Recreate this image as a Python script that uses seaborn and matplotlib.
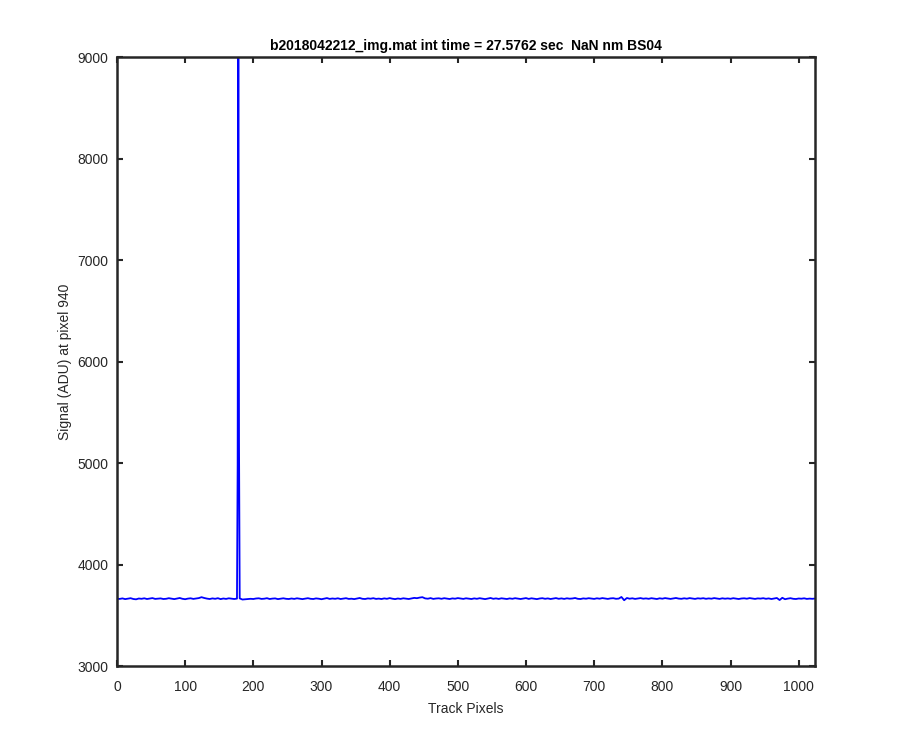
# MATLAB-style single-track signal plot, rebuilt with seaborn
import numpy as np
import pandas as pd
import matplotlib
matplotlib.use("Agg")
import matplotlib.pyplot as plt
import seaborn as sns

# === Data ===
title_text = "b2018042212_img.mat int time = 27.5762 sec  NaN nm BS04"
x_label = "Track Pixels"
y_label = "Signal (ADU) at pixel 940"

# baseline sampled every 4 track pixels (0..1020) plus the last pixel 1023
base_px = list(range(0, 1024, 4)) + [1023]
base_signal = [
    3663, 3661, 3666, 3659, 3664, 3668, 3660, 3657, 3665, 3662, 3667, 3660, 3664, 3669, 3661, 3663,
    3666, 3660, 3662, 3668, 3664, 3659, 3665, 3670, 3662, 3658, 3664, 3667, 3661, 3665, 3669, 3678,
    3670, 3664, 3660, 3666, 3662, 3668, 3659, 3665, 3661, 3667, 3663, 3660, 3664, 3666, 3655, 3657,
    3658, 3662, 3660, 3665, 3667, 3661, 3663, 3668, 3660, 3664, 3666, 3659, 3663, 3667, 3662, 3660,
    3665, 3661, 3667, 3663, 3659, 3664, 3668, 3662, 3660, 3666, 3663, 3658, 3664, 3669, 3661, 3665,
    3662, 3667, 3660, 3664, 3668, 3661, 3663, 3659, 3665, 3670, 3662, 3660, 3666, 3663, 3668, 3661,
    3664, 3660, 3666, 3662, 3669, 3663, 3659, 3665, 3661, 3667, 3664, 3660, 3666, 3671, 3668, 3674,
    3678, 3666, 3663, 3669, 3661, 3665, 3667, 3662, 3668, 3664, 3660, 3666, 3663, 3669, 3665, 3661,
    3667, 3663, 3660, 3666, 3662, 3668, 3664, 3659, 3665, 3670, 3662, 3666, 3661, 3667, 3663, 3660,
    3666, 3662, 3668, 3664, 3660, 3665, 3669, 3661, 3667, 3663, 3659, 3665, 3668, 3662, 3666, 3660,
    3664, 3669, 3662, 3666, 3661, 3667, 3663, 3665, 3670, 3662, 3660, 3666, 3663, 3668, 3664, 3661,
    3667, 3663, 3669, 3665, 3661, 3666, 3668, 3662, 3664, 3680, 3648, 3670, 3663, 3667, 3661, 3665,
    3669, 3663, 3666, 3662, 3668, 3664, 3660, 3667, 3663, 3669, 3665, 3661, 3666, 3670, 3664, 3662,
    3667, 3663, 3669, 3665, 3661, 3667, 3664, 3668, 3662, 3666, 3663, 3669, 3665, 3661, 3667, 3663,
    3666, 3662, 3668, 3664, 3660, 3665, 3667, 3663, 3669, 3665, 3661, 3666, 3664, 3668, 3662, 3666,
    3660, 3665, 3670, 3650, 3672, 3658, 3664, 3668, 3662, 3660, 3665, 3663, 3667, 3661, 3664, 3662,
    3664,
]

# cosmic-ray hit around track pixel 178 (top value runs off the axis)
spike_px = [177, 178, 179]
spike_signal = [4980, 9800, 5190]

x_ticks = list(range(0, 1001, 100))
y_ticks = list(range(3000, 9001, 1000))

df = pd.DataFrame({"px": base_px + spike_px, "signal": base_signal + spike_signal})
df = df.sort_values("px").reset_index(drop=True)

# === Style ===
sns.set_style("ticks")
plt.rcParams["font.family"] = ["Liberation Sans", "DejaVu Sans"]
dark = "#262626"

fig = plt.figure(figsize=(9, 7.5), dpi=100)
ax = fig.add_axes([0.13, 0.112, 0.7756, 0.812])

sns.lineplot(data=df, x="px", y="signal", ax=ax, color="#0000ff",
             linewidth=1.3, estimator=None, sort=False)

ax.set_xlim(0, 1024)
ax.set_ylim(3000, 9000)
ax.set_xticks(x_ticks)
ax.set_yticks(y_ticks)
ax.set_xlabel(x_label, fontsize=10, color=dark, labelpad=6)
ax.set_ylabel(y_label, fontsize=10, color=dark)
ax.set_title(title_text, fontsize=10, fontweight="bold", color="black", pad=5)

for side in ["top", "right", "bottom", "left"]:
    ax.spines[side].set_visible(True)
    ax.spines[side].set_linewidth(1.8)
    ax.spines[side].set_color(dark)

ax.tick_params(direction="in", length=4, width=1.5, colors=dark,
               labelsize=10, top=True, right=True, pad=6)
ax.tick_params(axis="x", pad=10)

fig.savefig("out.png", dpi=100, facecolor="white")
plt.close(fig)
